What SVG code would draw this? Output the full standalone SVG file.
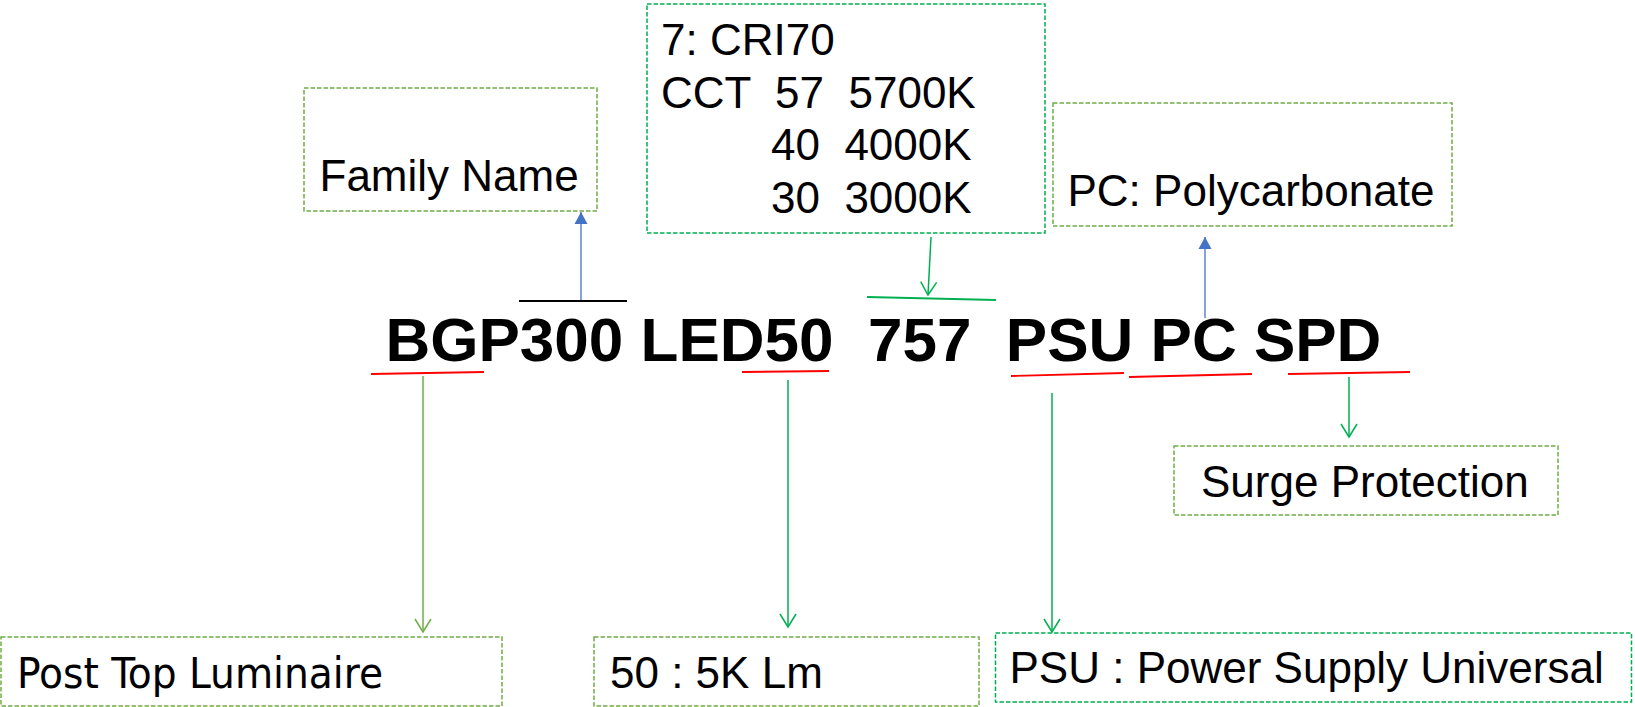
<svg xmlns="http://www.w3.org/2000/svg" width="1635" height="707" viewBox="0 0 1635 707">
<style>
text{font-family:"Liberation Sans",Arial,sans-serif;fill:#000}
.lbl{font-size:44px}
.code{font-size:62px;font-weight:bold;white-space:pre}
.tah{font-family:"DejaVu Sans Condensed","DejaVu Sans",sans-serif;font-size:42px}
.boxL{fill:#fff;stroke:#70AD47;stroke-width:1.5;stroke-dasharray:4.5 2}
.boxG{fill:#fff;stroke:#00B050;stroke-width:1.5;stroke-dasharray:4.5 2}
.red{stroke:#FF0000;stroke-width:1.8;fill:none}
.gA{stroke:#00B050;stroke-width:1.5;fill:none}
.lA{stroke:#70AD47;stroke-width:1.5;fill:none}
.bA{stroke:#4472C4;stroke-width:1.3;fill:none}
</style>
<defs>
<marker id="openG" markerUnits="userSpaceOnUse" viewBox="-16 -10 20 20" markerWidth="20" markerHeight="20" refX="0" refY="0" orient="auto">
<path d="M-13,-8 L0,0 L-13,8" fill="none" stroke="#00B050" stroke-width="1.5"/>
</marker>
<marker id="openL" markerUnits="userSpaceOnUse" viewBox="-16 -10 20 20" markerWidth="20" markerHeight="20" refX="0" refY="0" orient="auto">
<path d="M-13,-8 L0,0 L-13,8" fill="none" stroke="#70AD47" stroke-width="1.5"/>
</marker>
<marker id="fillB" markerUnits="userSpaceOnUse" viewBox="-14 -8 16 16" markerWidth="16" markerHeight="16" refX="0" refY="0" orient="auto">
<path d="M-12,-6.5 L0,0 L-12,6.5 Z" fill="#4472C4"/>
</marker>
</defs>

<g id="node-family">
<rect class="boxL" x="304" y="88" width="293" height="123"/>
<text class="lbl" x="319.5" y="191">Family Name</text>
</g>

<g id="node-cri">
<rect class="boxG" x="647" y="4" width="398" height="229"/>
<text class="lbl" x="661" y="55">7: CRI70</text>
<text class="lbl" x="661" y="107.5" xml:space="preserve" style="white-space:pre">CCT  57  5700K</text>
<text class="lbl" x="771" y="160" xml:space="preserve" style="white-space:pre">40  4000K</text>
<text class="lbl" x="771" y="212.5" xml:space="preserve" style="white-space:pre">30  3000K</text>
</g>

<g id="node-pc">
<rect class="boxL" x="1053" y="103" width="399" height="123"/>
<text class="lbl" x="1067.5" y="205.5">PC: Polycarbonate</text>
</g>

<g id="node-code">
<text class="code" x="385.5" y="361" xml:space="preserve">BGP300 LED50  757  PSU PC SPD</text>
</g>

<g id="node-surge">
<rect class="boxL" x="1174" y="446" width="384" height="69"/>
<text class="lbl" x="1201" y="497">Surge Protection</text>
</g>

<g id="node-post">
<rect class="boxL" x="1" y="637" width="501" height="69"/>
<text class="tah" x="17" y="688" textLength="366" lengthAdjust="spacingAndGlyphs">Post Top Luminaire</text>
</g>

<g id="node-lm">
<rect class="boxL" x="594" y="637" width="385" height="69"/>
<text class="lbl" x="610" y="688">50 : 5K Lm</text>
</g>

<g id="node-psu">
<rect class="boxG" x="995.5" y="633" width="636" height="69"/>
<text class="lbl" x="1009.5" y="683">PSU : Power Supply Universal</text>
</g>

<g id="connectors">
<line x1="519" y1="301" x2="627" y2="301" stroke="#000" stroke-width="1.8"/>
<line x1="867" y1="297" x2="996" y2="300" stroke="#00B050" stroke-width="1.8"/>
<line class="red" x1="371" y1="374" x2="484" y2="372"/>
<line class="red" x1="742" y1="372" x2="829" y2="371"/>
<line class="red" x1="1011" y1="376" x2="1124" y2="373"/>
<line class="red" x1="1129" y1="377" x2="1252" y2="374"/>
<line class="red" x1="1288" y1="374" x2="1410" y2="372"/>
<line class="bA" x1="581" y1="300" x2="581" y2="212" marker-end="url(#fillB)"/>
<line class="bA" x1="1205" y1="318" x2="1205" y2="237" marker-end="url(#fillB)"/>
<line class="gA" x1="931" y1="237" x2="928" y2="295" marker-end="url(#openG)"/>
<line class="lA" x1="423" y1="376" x2="423" y2="632" marker-end="url(#openL)"/>
<line class="gA" x1="788" y1="380" x2="788" y2="627" marker-end="url(#openG)"/>
<line class="gA" x1="1052" y1="393" x2="1052" y2="632" marker-end="url(#openG)"/>
<line class="gA" x1="1349" y1="377" x2="1349" y2="437" marker-end="url(#openG)"/>
</g>
</svg>
